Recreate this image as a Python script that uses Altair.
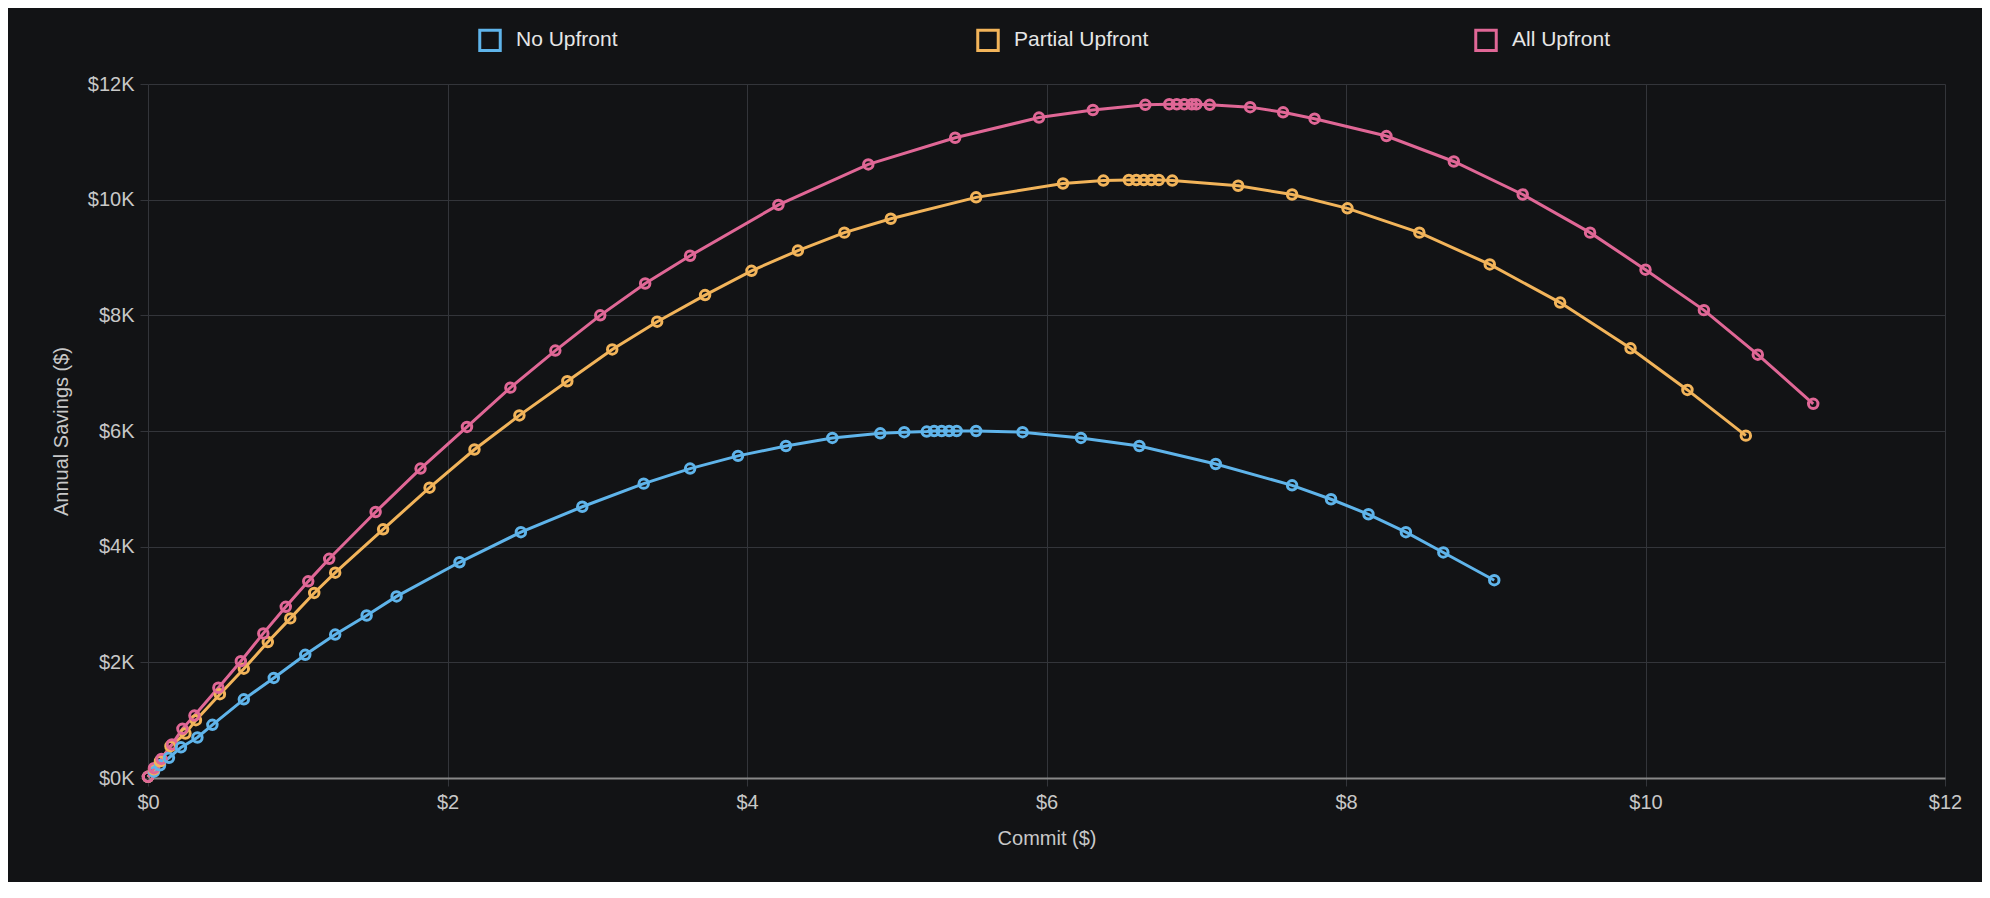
import altair as alt
import pandas as pd

no_x = [0.0, 0.04, 0.08, 0.14, 0.22, 0.33, 0.43, 0.64, 0.84, 1.05, 1.25, 1.46, 1.66, 2.08, 2.49, 2.9,
        3.31, 3.62, 3.94, 4.26, 4.57, 4.89, 5.05, 5.2, 5.25, 5.3, 5.35, 5.4, 5.53, 5.84, 6.23, 6.62,
        7.13, 7.64, 7.9, 8.15, 8.4, 8.65, 8.99]
no_y = [20, 110, 220, 350, 530, 700, 920, 1360, 1730, 2130, 2480, 2810, 3140, 3730, 4250, 4690,
        5090, 5350, 5570, 5740, 5880, 5960, 5980, 5990, 6000, 6000, 6000, 6000, 6000, 5980, 5880, 5740,
        5430, 5060, 4820, 4560, 4250, 3900, 3420]

pa_x = [0.0, 0.04, 0.08, 0.15, 0.25, 0.32, 0.48, 0.64, 0.8, 0.95, 1.11, 1.25, 1.57, 1.88, 2.18, 2.48,
        2.8, 3.1, 3.4, 3.72, 4.03, 4.34, 4.65, 4.96, 5.53, 6.11, 6.38, 6.55, 6.6, 6.65, 6.7, 6.75,
        6.84, 7.28, 7.64, 8.01, 8.49, 8.96, 9.43, 9.9, 10.28, 10.67]
pa_y = [20, 150, 290, 550, 770, 1000, 1450, 1890, 2350, 2760, 3200, 3550, 4300, 5020, 5680, 6270,
        6860, 7410, 7890, 8350, 8770, 9120, 9430, 9670, 10040, 10280, 10330, 10340, 10340, 10340, 10340, 10340,
        10330, 10240, 10090, 9850, 9430, 8880, 8220, 7430, 6710, 5920]

al_x = [0.0, 0.04, 0.09, 0.16, 0.23, 0.31, 0.47, 0.62, 0.77, 0.92, 1.07, 1.21, 1.52, 1.82, 2.13, 2.42,
        2.72, 3.02, 3.32, 3.62, 4.21, 4.81, 5.39, 5.95, 6.31, 6.66, 6.82, 6.87, 6.92, 6.97, 7.0,
        7.09, 7.36, 7.58, 7.79, 8.27, 8.72, 9.18, 9.63, 10.0, 10.39, 10.75, 11.12]
al_y = [20, 170, 330, 580, 850, 1080, 1560, 2020, 2500, 2960, 3400, 3790, 4600, 5350, 6070, 6750,
        7390, 8000, 8550, 9030, 9910, 10610, 11070, 11420, 11550, 11640, 11650, 11650, 11650, 11650, 11650,
        11640, 11600, 11510, 11400, 11100, 10660, 10090, 9430, 8790, 8090, 7320, 6470]

series = ["No Upfront", "Partial Upfront", "All Upfront"]
colors = ["#5fb4ea", "#f2b45a", "#e06796"]

rows = []
for name, xs, ys in [(series[0], no_x, no_y), (series[1], pa_x, pa_y), (series[2], al_x, al_y)]:
    for i, (a, b) in enumerate(zip(xs, ys)):
        rows.append({"plan": name, "commit": a, "savings": b, "i": i})
df = pd.DataFrame(rows)

chart = alt.Chart(df).mark_line(
    strokeWidth=3,
    point=alt.OverlayMarkDef(filled=False, size=90, strokeWidth=3),
).encode(
    x=alt.X("commit:Q", title="Commit ($)", scale=alt.Scale(domain=[0, 12], nice=False),
            axis=alt.Axis(values=[0, 2, 4, 6, 8, 10, 12], format="$,.0f", labelFlush=False)),
    y=alt.Y("savings:Q", title="Annual Savings ($)", scale=alt.Scale(domain=[0, 12000], nice=False),
            axis=alt.Axis(values=[0, 2000, 4000, 6000, 8000, 10000, 12000], labelFlush=False,
                          labelExpr="'$' + datum.value / 1000 + 'K'")),
    color=alt.Color("plan:N", scale=alt.Scale(domain=series, range=colors), sort=series,
                    legend=alt.Legend(title=None, orient="none", direction="horizontal",
                                      legendX=330, legendY=-56, symbolType="square",
                                      symbolFillColor="#3a2f33", symbolSize=420, symbolStrokeWidth=3,
                                      labelFontSize=21, labelColor="#e6e6e6", gridAlign="all",
                                      columnPadding=320, labelOffset=14)),
    order="i:Q",
).properties(
    width=1797, height=694,
    padding={"left": 140, "top": 76, "right": 37, "bottom": 104},
    autosize=alt.AutoSizeParams(type="none"),
    background="#121315",
).configure_view(stroke=None).configure_axis(
    gridColor="#33353a", domain=False, ticks=True, tickColor="#33353a", tickSize=8,
    labelColor="#c8c8c8", labelFontSize=20, titleColor="#c8c8c8", titleFontSize=20,
    titleFontWeight="normal", labelFont="Liberation Sans", titleFont="Liberation Sans", labelPadding=6,
).configure_axisX(titlePadding=16, domain=True, domainColor="#888", domainWidth=2
).configure_axisY(titlePadding=16).configure_legend(labelFont="Liberation Sans")

chart.save("out.html", embed_options={"renderer": "svg", "actions": False})
